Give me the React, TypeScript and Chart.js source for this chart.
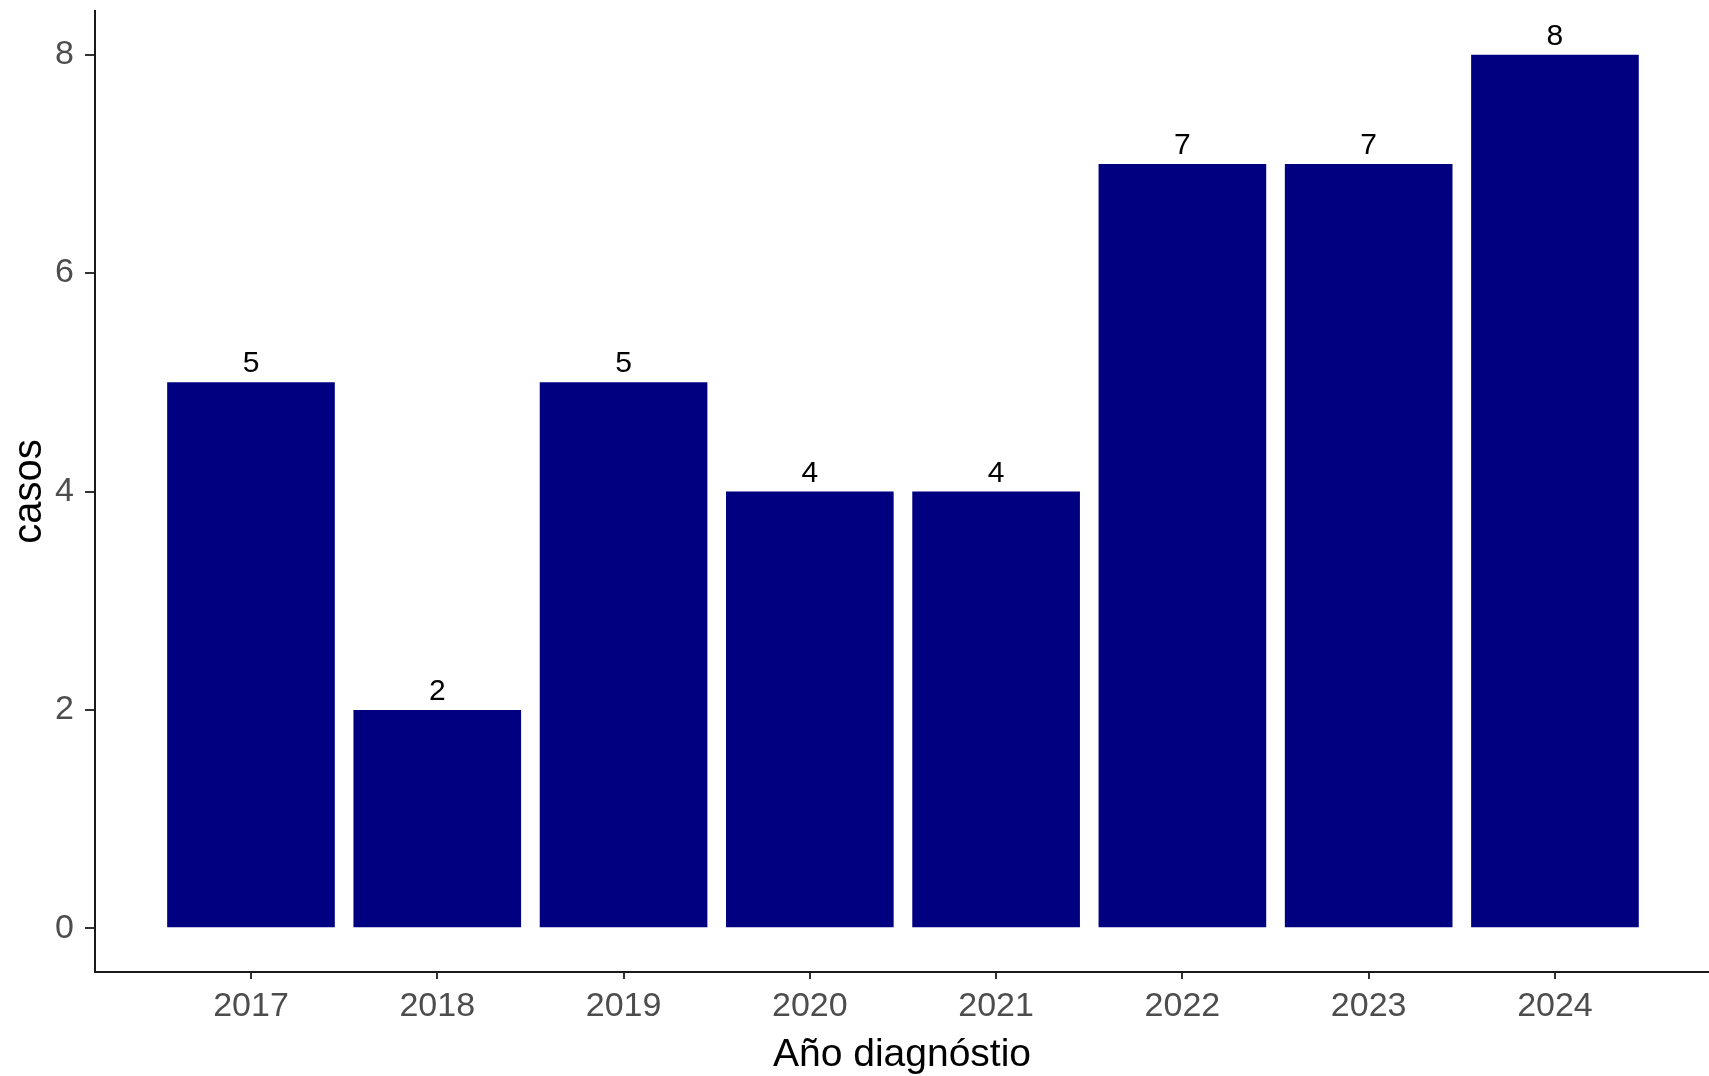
import React, { useEffect, useRef } from "react";
import { Chart, registerables } from "chart.js";

Chart.register(...registerables);

const years = ["2017", "2018", "2019", "2020", "2021", "2022", "2023", "2024"];
const casos = [5, 2, 5, 4, 4, 7, 7, 8];
const yTicks = [0, 2, 4, 6, 8];

const FONT = "'Liberation Sans', Arial, sans-serif";

const valueLabels = {
  id: "valueLabels",
  afterDatasetsDraw(chart: any) {
    const ctx = chart.ctx;
    const meta = chart.getDatasetMeta(0);
    ctx.save();
    ctx.font = `30px ${FONT}`;
    ctx.fillStyle = "#000000";
    ctx.textAlign = "center";
    ctx.textBaseline = "alphabetic";
    meta.data.forEach((el: any, i: number) => {
      ctx.fillText(String(casos[i]), el.x, el.y - 10);
    });
    ctx.restore();
  },
};

export default function App() {
  const ref = useRef<HTMLCanvasElement | null>(null);
  useEffect(() => {
    if (!ref.current) return;
    const chart = new Chart(ref.current, {
      type: "bar",
      data: {
        datasets: [
          {
            data: casos.map((v, i) => ({ x: i, y: v })),
            backgroundColor: "#000080",
            borderWidth: 0,
            barPercentage: 0.9,
            categoryPercentage: 1,
          },
        ],
      },
      options: {
        animation: false,
        responsive: false,
        maintainAspectRatio: false,
        layout: { padding: { top: 11, left: 0, right: 0, bottom: 0 } },
        plugins: { legend: { display: false }, tooltip: { enabled: false } },
        scales: {
          x: {
            type: "linear",
            offset: false,
            min: -0.8374,
            max: 7.827,
            afterBuildTicks: (scale: any) => {
              scale.ticks = years.map((_, i) => ({ value: i }));
            },
            afterFit: (scale: any) => {
              scale.height = 104;
              scale.paddingLeft = 0;
              scale.paddingRight = 0;
            },
            ticks: {
              callback: (v: any) => years[v as number],
              color: "#4D4D4D",
              font: { family: FONT, size: 34 },
              padding: 7,
              maxRotation: 0,
              autoSkip: false,
            },
            grid: {
              display: true,
              drawOnChartArea: false,
              drawTicks: true,
              tickLength: 7,
              color: "#333333",
              lineWidth: 2,
              offset: false,
            },
            border: { display: true, color: "#1a1a1a", width: 2 },
            title: {
              display: true,
              text: "Año diagnóstio",
              color: "#000000",
              font: { family: FONT, size: 39 },
              padding: { top: 0, bottom: -3 },
            },
          },
          y: {
            type: "linear",
            min: -0.4,
            max: 8.4,
            afterBuildTicks: (scale: any) => {
              scale.ticks = yTicks.map((v) => ({ value: v }));
            },
            afterFit: (scale: any) => {
              scale.width = 95;
              scale.paddingTop = 0;
              scale.paddingBottom = 0;
            },
            ticks: {
              color: "#4D4D4D",
              font: { family: FONT, size: 34 },
              padding: 11,
            },
            grid: {
              display: true,
              drawOnChartArea: false,
              drawTicks: true,
              tickLength: 10,
              color: "#333333",
              lineWidth: 2,
            },
            border: { display: true, color: "#1a1a1a", width: 2 },
            title: {
              display: true,
              text: "casos",
              color: "#000000",
              font: { family: FONT, size: 40 },
              padding: { top: 6, bottom: 0 },
            },
          },
        },
      },
      plugins: [valueLabels],
    } as any);
    return () => chart.destroy();
  }, []);
  return (
    <div style={{ position: "fixed", left: 0, top: 0, width: 1709, height: 1076, background: "#ffffff" }}>
      <canvas ref={ref} width={1709} height={1076} style={{ display: "block" }} />
    </div>
  );
}
